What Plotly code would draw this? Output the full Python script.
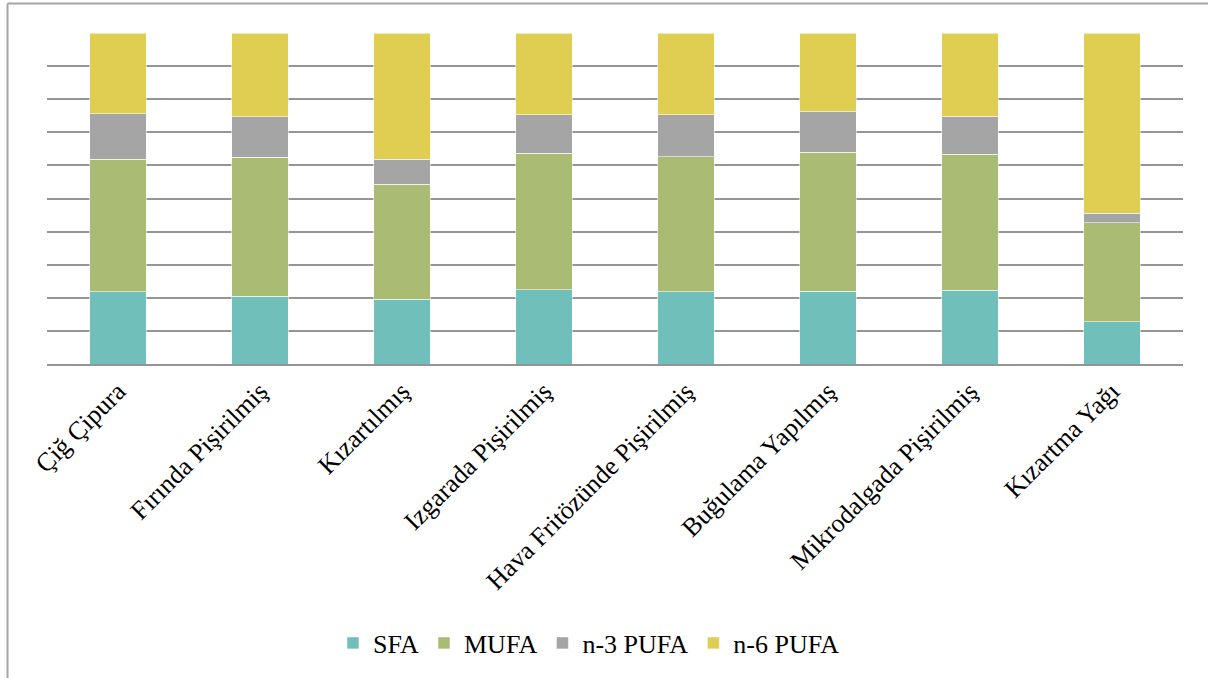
import plotly.graph_objects as go

# Cooking methods for gilthead sea bream and the frying oil
categories = [
    "Çiğ Çipura",
    "Fırında Pişirilmiş",
    "Kızartılmış",
    "Izgarada Pişirilmiş",
    "Hava Fritözünde Pişirilmiş",
    "Buğulama Yapılmış",
    "Mikrodalgada Pişirilmiş",
    "Kızartma Yağı",
]

# Fatty acid composition (% of total fatty acids)
sfa = [21.8, 20.5, 19.5, 22.5, 21.9, 22.0, 22.3, 12.8]
mufa = [40.1, 41.9, 34.8, 41.1, 40.7, 42.0, 41.0, 29.8]
n3_pufa = [13.7, 12.3, 7.6, 11.7, 12.7, 12.2, 11.5, 3.0]
n6_pufa = [24.4, 25.3, 38.1, 24.7, 24.7, 23.8, 25.2, 54.4]

series = [
    ("SFA", sfa, "#70bfba"),
    ("MUFA", mufa, "#aabb74"),
    ("n-3 PUFA", n3_pufa, "#a5a5a5"),
    ("n-6 PUFA", n6_pufa, "#e0ce52"),
]

W, H = 1208, 678
ML, MR, MT, MB = 47, 25, 33, 314
FONT = "Liberation Serif, Times New Roman, serif"
FS = 26

fig = go.Figure()
for name, vals, color in series:
    fig.add_trace(go.Bar(
        x=categories, y=vals, name=name,
        marker=dict(color=color, line=dict(color="rgba(255,255,255,0.7)", width=0.8)),
    ))

pw = W - ML - MR
ph = H - MT - MB

def px_x(x):
    return (x - ML) / pw

def px_y(y):
    return (H - MB - y) / ph

# outer chart frame (top and left edges visible)
frame = dict(color="#a6a6a6", width=2)
shapes = [
    dict(type="line", xref="paper", yref="paper",
         x0=px_x(7.5), x1=px_x(W + 5), y0=px_y(3.5), y1=px_y(3.5), line=frame),
    dict(type="line", xref="paper", yref="paper",
         x0=px_x(7.5), x1=px_x(7.5), y0=px_y(3.5), y1=px_y(H + 5), line=frame),
]

fig.update_layout(
    width=W, height=H,
    margin=dict(l=ML, r=MR, t=MT, b=MB, pad=0),
    paper_bgcolor="white", plot_bgcolor="white",
    barmode="stack", bargap=0.6,
    font=dict(family=FONT, size=FS, color="#000000"),
    shapes=shapes,
    legend=dict(
        orientation="h", x=px_x(589), xanchor="center", y=px_y(643), yanchor="middle",
        font=dict(family=FONT, size=FS, color="#000000"),
        traceorder="normal",
    ),
    xaxis=dict(
        tickangle=-45, showgrid=False, showline=True, linecolor="#959595", linewidth=1.5,
        ticks="", tickfont=dict(family=FONT, size=FS, color="#000000"),
    ),
    yaxis=dict(
        range=[0, 100], dtick=10, showgrid=True, gridcolor="#959595", gridwidth=1.5,
        zeroline=False, showticklabels=False, ticks="", showline=False,
    ),
)

fig.write_html("out.html")
